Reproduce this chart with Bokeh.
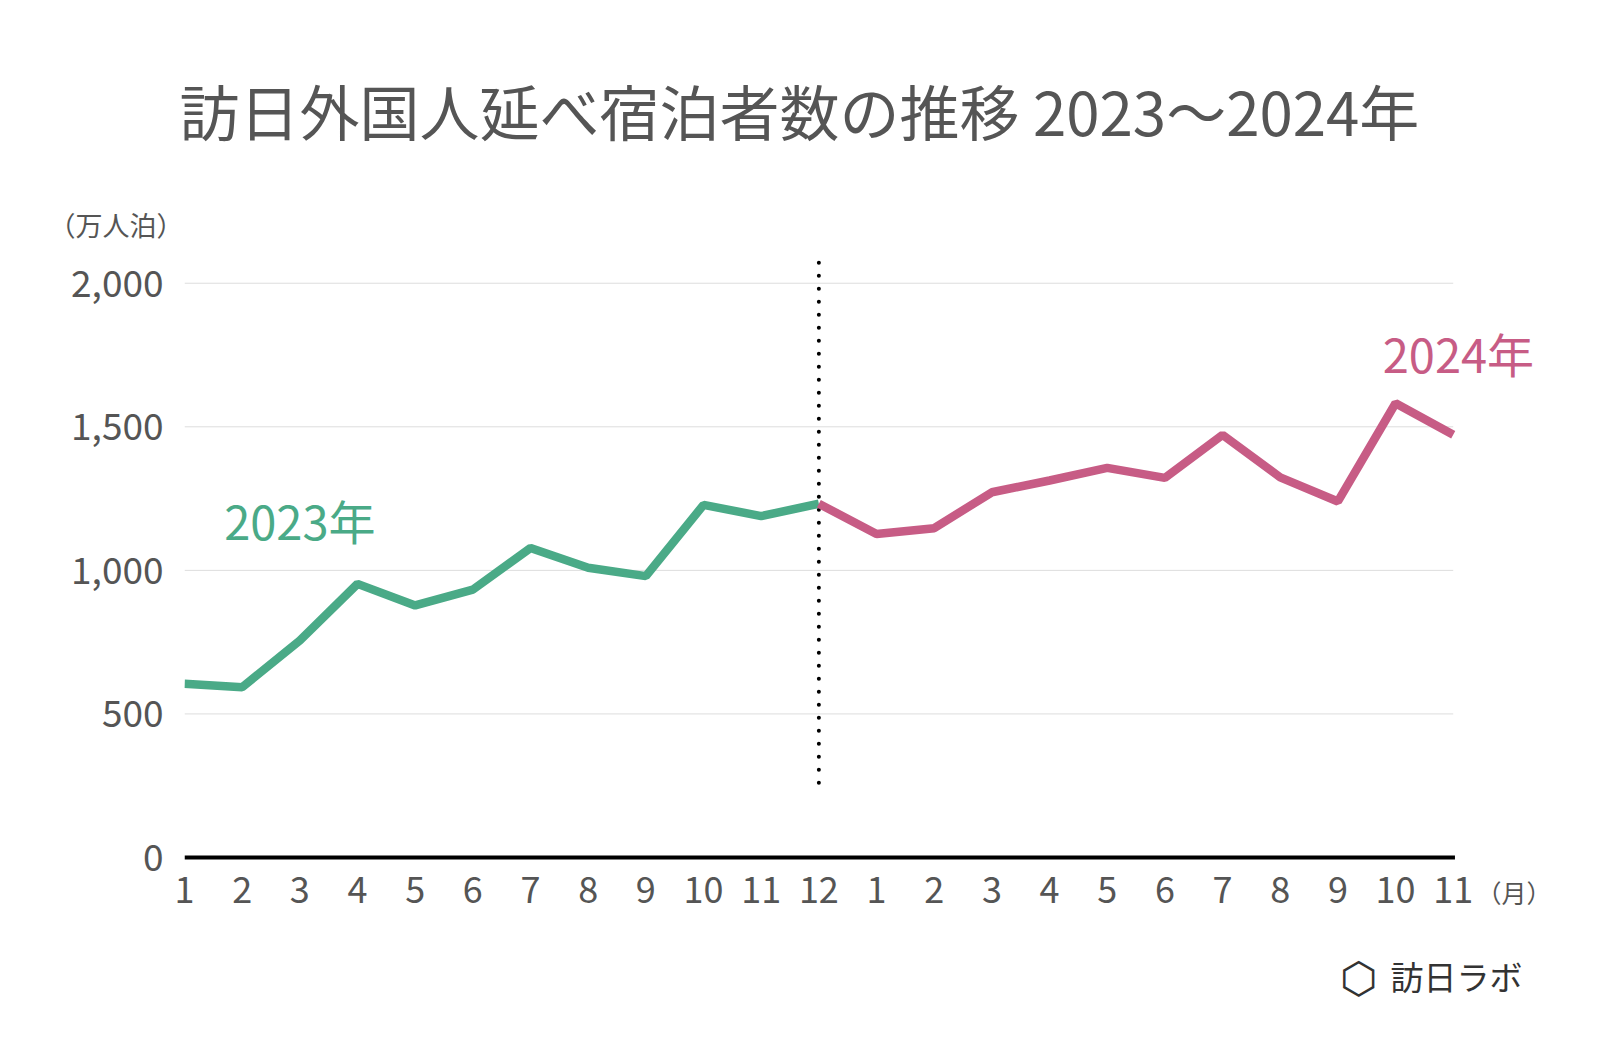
from bokeh.plotting import figure
from bokeh.models import Range1d, FixedTicker, NumeralTickFormatter, Label, Title
from bokeh.embed import file_html
from bokeh.resources import INLINE

# ---- data (万人泊) ----
months_2023 = list(range(1, 13))
stays_2023 = [605, 593, 756, 953, 878, 933, 1078, 1009, 980, 1228, 1189, 1232]
months_2024 = list(range(1, 12))
stays_2024 = [1127, 1147, 1272, 1313, 1357, 1322, 1472, 1324, 1240, 1582, 1472]
y_ticks = [0, 500, 1000, 1500, 2000]
title_text = "訪日外国人延べ宿泊者数の推移 2023～2024年"
unit_y = "（万人泊）"
unit_x = "（月）"
label_2023 = "2023年"
label_2024 = "2024年"
brand = "訪日ラボ"
brand_icon = "⬡"

GREEN = "#4AAA87"
PINK = "#C75C85"
GREY = "#555555"
FONT = "Noto Sans CJK JP"

# sequential x positions across the two years
x23 = months_2023
x24 = [months_2023[-1]] + [months_2023[-1] + m for m in months_2024]
y24 = [stays_2023[-1]] + stays_2024
tick_pos = x23 + [months_2023[-1] + m for m in months_2024]
tick_labels = [str(m) for m in months_2023] + [str(m) for m in months_2024]
x_first, x_last = tick_pos[0], tick_pos[-1]
divider_x = months_2023[-1]
divider_y = (260, 2071)

p = figure(width=1592, height=1048, output_backend="svg", toolbar_location=None, title=None,
           x_range=Range1d(1, 24.6), y_range=Range1d(-17.4, 2114),
           min_border_left=184, min_border_right=47, min_border_top=250, min_border_bottom=186)
p.outline_line_color = None
p.background_fill_color = "white"
p.border_fill_color = "white"

# titles (side panels, nearest to frame first)
p.add_layout(Title(text=unit_y, align="left", offset=-136, standoff=13,
                   text_font=FONT, text_font_size="27px", text_font_style="normal",
                   text_color=GREY), "above")
p.add_layout(Title(text=title_text, align="left", offset=-5, standoff=88,
                   text_font=FONT, text_font_size="60px", text_font_style="normal",
                   text_color=GREY), "above")

# axes
p.yaxis.ticker = FixedTicker(ticks=y_ticks)
p.yaxis.formatter = NumeralTickFormatter(format="0,0")
p.yaxis.axis_line_color = None
p.yaxis.major_tick_line_color = None
p.yaxis.minor_tick_line_color = None
p.yaxis.major_label_text_font = FONT
p.yaxis.major_label_text_font_size = "37px"
p.yaxis.major_label_text_color = GREY
p.yaxis.major_label_standoff = 15

p.xaxis.ticker = FixedTicker(ticks=tick_pos)
p.xaxis.major_label_overrides = {t: l for t, l in zip(tick_pos, tick_labels)}
p.xaxis.axis_line_color = None
p.xaxis.major_tick_line_color = None
p.xaxis.minor_tick_line_color = None
p.xaxis.major_label_text_font = FONT
p.xaxis.major_label_text_font_size = "36px"
p.xaxis.major_label_text_color = GREY
p.xaxis.major_label_standoff = 8

# brand mark and month unit below the axis
p.add_layout(Title(text=brand, align="right", offset=23, standoff=93, vertical_align="top",
                   text_font=FONT, text_font_size="33px", text_font_style="normal",
                   text_color="#333333"), "below")
p.add_layout(Title(text=brand_icon, align="right", offset=168, standoff=-192, vertical_align="top",
                   text_font="DejaVu Sans", text_font_size="43px", text_font_style="normal",
                   text_color="#333333"), "below")
p.add_layout(Title(text=unit_x, align="right", offset=-6, standoff=-350, vertical_align="top",
                   text_font=FONT, text_font_size="25px", text_font_style="normal",
                   text_color=GREY), "below")

p.xgrid.grid_line_color = None
p.ygrid.grid_line_color = None

# horizontal grid lines and zero baseline, spanning the month range
grid_vals = y_ticks[1:]
p.segment(x0=[x_first] * len(grid_vals), x1=[x_last] * len(grid_vals), y0=grid_vals, y1=grid_vals,
          line_color="#dddddd", line_width=1)
p.segment(x0=[x_first], x1=[x_last + 0.03], y0=[y_ticks[0]], y1=[y_ticks[0]],
          line_color="black", line_width=4)

# divider between years
p.segment(x0=[divider_x], y0=[divider_y[0]], x1=[divider_x], y1=[divider_y[1]],
          line_color="black", line_width=4, line_dash="0 13", line_cap="round")

# series
p.line(x23, stays_2023, line_color=GREEN, line_width=8.5)
p.line(x24, y24, line_color=PINK, line_width=8.5)

# series labels
p.add_layout(Label(x=3.0, y=1177, text=label_2023, text_align="center", text_baseline="middle",
                   text_font=FONT, text_font_size="47px", text_color=GREEN))
p.add_layout(Label(x=23.09, y=1759, text=label_2024, text_align="center", text_baseline="middle",
                   text_font=FONT, text_font_size="47px", text_color=PINK))

open("out.html", "w").write(file_html(p, INLINE))
